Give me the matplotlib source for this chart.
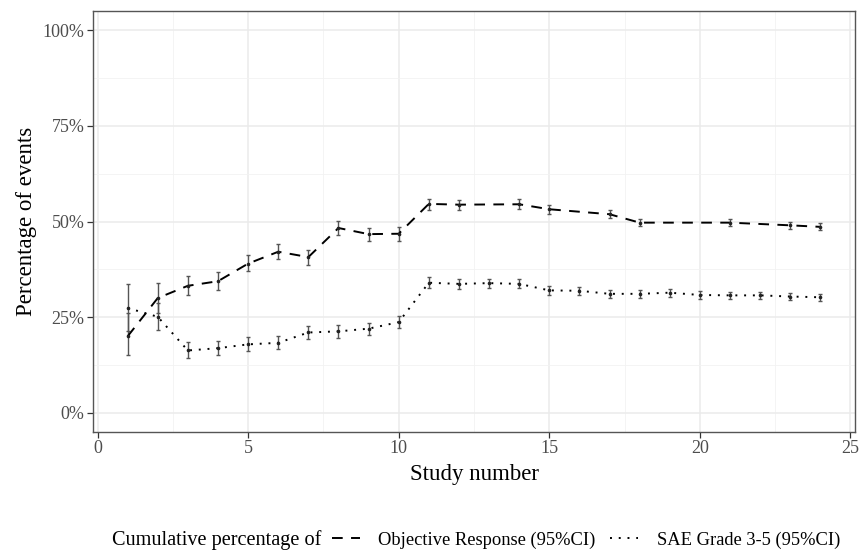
"""
Cumulative percentage of objective response and grade 3-5 SAE by study number.
"""

import matplotlib
matplotlib.use("Agg")
import matplotlib.pyplot as plt
from matplotlib.lines import Line2D
from matplotlib.ticker import FuncFormatter, MultipleLocator

plt.rcParams["font.family"] = ["Liberation Serif", "DejaVu Serif"]

# Objective response (95% CI)
study_or = [1, 2, 3, 4, 5, 6, 7, 8, 9, 10, 11, 12, 14, 15, 17, 18, 21, 23, 24]
or_pct = [20.0, 30.0, 33.2, 34.4, 39.0, 42.1, 40.7, 48.3, 46.7, 46.8,
          54.6, 54.4, 54.5, 53.2, 51.9, 49.7, 49.7, 49.0, 48.6]
or_low = [15.1, 26.0, 30.7, 32.0, 37.0, 40.1, 38.7, 46.5, 44.9, 45.0,
          53.1, 53.0, 53.2, 52.0, 50.8, 48.7, 48.8, 48.1, 47.7]
or_high = [26.0, 34.0, 35.7, 36.7, 41.3, 44.2, 42.6, 50.1, 48.4, 48.5,
           56.0, 55.7, 55.8, 54.4, 53.0, 50.7, 50.6, 49.9, 49.5]

# SAE grade 3-5 (95% CI)
study_sae = list(range(1, 25))
sae_pct = [27.4, 25.1, 16.3, 16.9, 17.9, 18.3, 21.0, 21.3, 22.0, 23.7, 34.0, 33.7,
           33.9, 33.7, 32.0, 31.9, 31.1, 31.1, 31.4, 30.8, 30.7, 30.7, 30.4, 30.2]
sae_low = [21.5, 21.6, 14.3, 15.1, 16.2, 16.6, 19.3, 19.6, 20.4, 22.2, 32.6, 32.4,
           32.7, 32.5, 30.9, 30.8, 30.1, 30.1, 30.4, 29.8, 29.8, 29.8, 29.5, 29.3]
sae_high = [33.6, 28.8, 18.4, 18.8, 19.8, 20.1, 22.7, 22.9, 23.6, 25.2, 35.5, 35.1,
            35.1, 34.9, 33.1, 33.0, 32.1, 32.1, 32.4, 31.8, 31.7, 31.6, 31.3, 31.1]

OR_DASH = (5.5, 4.3)
SAE_DOT = (1.0, 3.5)
ERR_COLOR = "#555555"

fig = plt.figure(figsize=(8.59, 5.52), dpi=100)
ax = fig.add_axes([93 / 859, 1 - 432 / 552, (855 - 93) / 859, (432 - 11) / 552])


def draw_series(x, y, lo, hi, dashes):
    yerr = [[v - l for v, l in zip(y, lo)], [h - v for v, h in zip(y, hi)]]
    ax.errorbar(x, y, yerr=yerr, fmt="none", ecolor=ERR_COLOR, elinewidth=1.0,
                capsize=1.3, capthick=1.0, zorder=3)
    ax.plot(x, y, color="black", lw=1.4, dashes=dashes, zorder=4)
    ax.plot(x, y, "o", color="#222222", ms=1.6, zorder=5)


draw_series(study_or, or_pct, or_low, or_high, OR_DASH)
draw_series(study_sae, sae_pct, sae_low, sae_high, SAE_DOT)

ax.set_xlim(-0.15, 25.15)
ax.set_ylim(-5, 105)
ax.xaxis.set_major_locator(MultipleLocator(5))
ax.xaxis.set_minor_locator(MultipleLocator(2.5))
ax.yaxis.set_major_locator(MultipleLocator(25))
ax.yaxis.set_minor_locator(MultipleLocator(12.5))
ax.yaxis.set_major_formatter(FuncFormatter(lambda v, _: f"{v:.0f}%"))

ax.grid(which="major", color="#EBEBEB", lw=1.1)
ax.grid(which="minor", color="#F2F2F2", lw=0.6)
ax.set_axisbelow(True)
for sp in ax.spines.values():
    sp.set_color("#555555")
    sp.set_linewidth(1.0)
ax.tick_params(which="major", length=4, width=0.9, color="#333333",
               labelsize=13, labelcolor="#4D4D4D", pad=2)
ax.tick_params(which="minor", length=0)

ax.set_xlabel("Study number", fontsize=16.5, labelpad=5)
ax.set_ylabel("Percentage of events", fontsize=16.5, labelpad=4)

# legend at the bottom, title on the left
fig.text(112 / 859, 1 - 540 / 552, "Cumulative percentage of", fontsize=14.6,
         ha="left", va="center")
handles = [
    Line2D([], [], color="black", lw=1.4, dashes=OR_DASH),
    Line2D([], [], color="black", lw=1.4, dashes=SAE_DOT),
]
fig.legend(handles, ["Objective Response (95%CI)", "SAE Grade 3-5 (95%CI)"],
           loc="center left", bbox_to_anchor=(332 / 859, 1 - 540 / 552),
           ncol=2, frameon=False, fontsize=13.3, handlelength=1.5,
           handletextpad=1.0, columnspacing=0.8, borderpad=0, borderaxespad=0)

fig.savefig("out.png", dpi=100)
